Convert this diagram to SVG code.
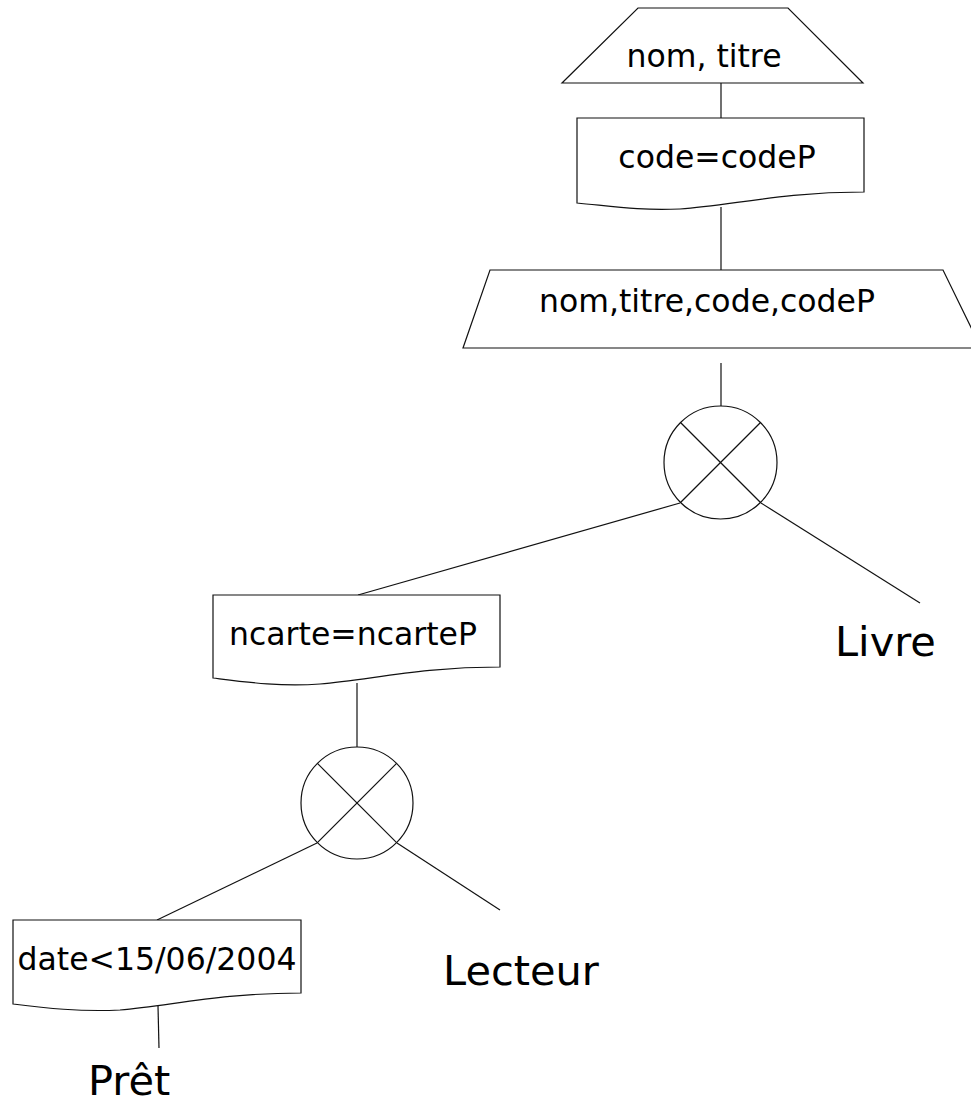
<svg xmlns="http://www.w3.org/2000/svg" width="971" height="1106" viewBox="0 0 971 1106">
<style>
.s{fill:#fff;stroke:#111;stroke-width:1.2}
.c{stroke:#111;stroke-width:1.2;fill:none}
.t{font-family:"DejaVu Sans","Liberation Sans",sans-serif;font-size:31.5px;fill:#000;text-anchor:middle}
.l{font-family:"DejaVu Sans","Liberation Sans",sans-serif;font-size:41.5px;fill:#000}
</style>
<rect width="971" height="1106" fill="#fff"/>
<g id="connectors">
<line class="c" x1="721" y1="83" x2="721" y2="118"/>
<line class="c" x1="721" y1="207" x2="721" y2="270"/>
<line class="c" x1="721" y1="363" x2="721" y2="406"/>
<line class="c" x1="680" y1="503" x2="358" y2="595"/>
<line class="c" x1="761" y1="503" x2="920" y2="603"/>
<line class="c" x1="357" y1="683" x2="357" y2="747"/>
<line class="c" x1="317" y1="843" x2="157" y2="920"/>
<line class="c" x1="397" y1="843" x2="500" y2="910"/>
<line class="c" x1="158" y1="1006" x2="159" y2="1048"/>
</g>
<g id="proj1">
<polygon class="s" points="638,8 788,8 863,83 562,83"/>
<text class="t" x="704" y="67">nom, titre</text>
</g>
<g id="sel1">
<path class="s" d="M577,118 H864 V192 C780,192 730,206 680,209 C640,211 610,206 577,203 Z"/>
<text class="t" x="717" y="168">code=codeP</text>
</g>
<g id="proj2">
<polygon class="s" points="490,270 943,270 981,348 463,348"/>
<text class="t" x="707" y="312">nom,titre,code,codeP</text>
</g>
<g id="join1">
<circle class="s" cx="720.5" cy="462.5" r="56.5"/>
<line class="c" x1="680.5" y1="422.5" x2="760.5" y2="502.5"/>
<line class="c" x1="760.5" y1="422.5" x2="680.5" y2="502.5"/>
</g>
<g id="livre">
<text class="l" x="835" y="656">Livre</text>
</g>
<g id="sel2">
<path class="s" d="M213,595 H500 V667 C420,667 370,680 320,684 C280,687 245,682 213,678 Z"/>
<text class="t" x="353" y="645">ncarte=ncarteP</text>
</g>
<g id="join2">
<circle class="s" cx="357" cy="803" r="56"/>
<line class="c" x1="317.4" y1="763.4" x2="396.6" y2="842.6"/>
<line class="c" x1="396.6" y1="763.4" x2="317.4" y2="842.6"/>
</g>
<g id="lecteur">
<text class="l" x="443" y="985">Lecteur</text>
</g>
<g id="sel3">
<path class="s" d="M13,920 H301 V993 C220,993 170,1006 120,1010 C80,1012 45,1008 13,1004 Z"/>
<text class="t" x="157" y="970">date&lt;15/06/2004</text>
</g>
<g id="pret">
<text class="l" x="88" y="1095">Prêt</text>
</g>
</svg>
